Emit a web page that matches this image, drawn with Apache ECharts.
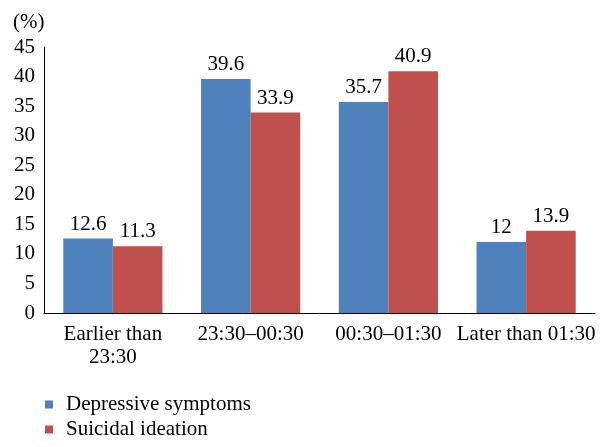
<!DOCTYPE html>
<html><head><meta charset="utf-8">
<script src="https://cdn.jsdelivr.net/npm/echarts@6/dist/echarts.min.js"></script>
<style>html,body{margin:0;padding:0;background:#fff}#c{width:610px;height:447px}</style>
</head><body><div id="c"></div>
<script>
var categories = ["Earlier than\n23:30", "23:30\u201300:30", "00:30\u201301:30", "Later than 01:30"];
var depressive = [12.6, 39.6, 35.7, 12];
var suicidal = [11.3, 33.9, 40.9, 13.9];
var seriesNames = ["Depressive symptoms", "Suicidal ideation"];
var font = "Liberation Serif";
var fs = 21;
var chart = echarts.init(document.getElementById('c'));
var lbl = {show: true, position: 'top', color: '#000', fontFamily: font, fontSize: fs, distance: 4};
chart.setOption({
  animation: false,
  textStyle: {fontFamily: font},
  grid: {left: 44, right: 15, top: 47, bottom: 134},
  graphic: [{type: 'text', left: 13, top: 12, style: {text: '(%)', font: fs + 'px "Liberation Serif"', fill: '#000'}}],
  legend: {
    orient: 'vertical', left: 40, top: 389, icon: 'rect', itemWidth: 8, itemHeight: 8, itemGap: 4,
    textStyle: {fontFamily: font, fontSize: fs, color: '#000', padding: [0,0,0,8]},
    data: seriesNames
  },
  xAxis: {
    type: 'category', data: categories,
    axisLine: {lineStyle: {color: '#000', width: 1}}, axisTick: {show: false},
    axisLabel: {color: '#000', fontFamily: font, fontSize: fs, margin: 10, interval: 0, lineHeight: 23}
  },
  yAxis: {
    type: 'value', min: 0, max: 45, interval: 5,
    axisLine: {show: true, lineStyle: {color: '#000', width: 1}}, axisTick: {show: false},
    splitLine: {show: false},
    axisLabel: {color: '#000', fontFamily: font, fontSize: fs, margin: 9}
  },
  series: [
    {name: seriesNames[0], type: 'bar', data: depressive, barWidth: '36%', barGap: '0%', itemStyle: {color: '#4F81BD'}, label: lbl},
    {name: seriesNames[1], type: 'bar', data: suicidal, barWidth: '36%', itemStyle: {color: '#C0504D'}, label: lbl}
  ]
});
</script></body></html>
